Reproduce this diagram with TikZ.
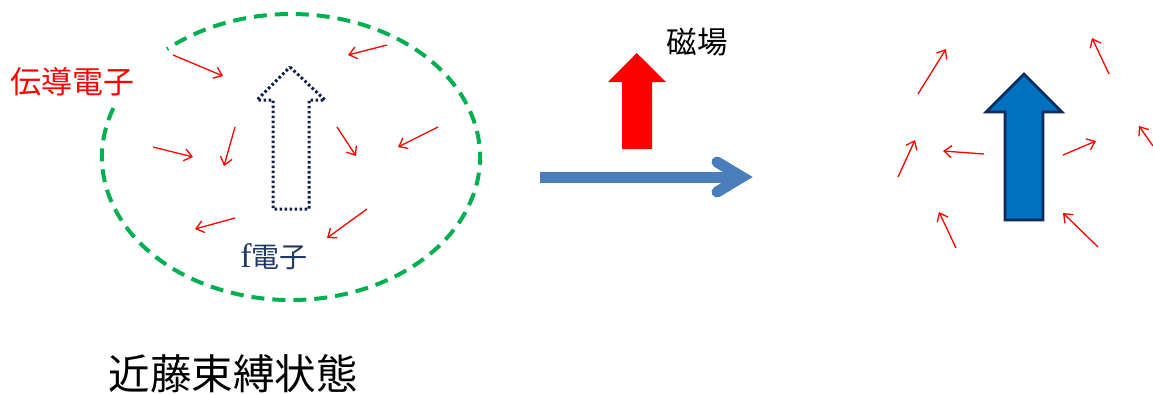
\documentclass[tikz,border=0pt]{standalone}
\usepackage{fontspec}
\newfontfamily\jpfont{Noto Sans CJK JP}
\newfontfamily\latinserif{Liberation Serif}
\usetikzlibrary{arrows.meta}
\definecolor{cloudgreen}{HTML}{00B050}
\definecolor{fnavy}{HTML}{1F3864}
\definecolor{dotnavy}{HTML}{0F1F4A}
\definecolor{flowblue}{HTML}{4A7EBB}
\definecolor{spinblue}{HTML}{0070C0}
\definecolor{spinedge}{HTML}{0F2B5B}
\tikzset{
  elec/.style={red, line width=1.3pt, -{Straight Barb[length=7.5pt,width=12pt]}},
  cloud/.style={cloudgreen, line width=4pt, dash pattern=on 13pt off 8pt},
  label/.style={inner sep=0pt, font=\jpfont},
}
\begin{document}
\begin{tikzpicture}[x=1pt,y=-1pt]
\useasboundingbox (0,0) rectangle (1153,394);

% screening cloud of conduction electrons (open where the label sits)
\coordinate (cloudstart) at (113.4,108.1);
\draw[cloud] (cloudstart) arc[start angle=160, end angle=491, x radius=189pt, y radius=143pt];

% localized f-electron spin, dotted outline
\draw[dotnavy, line width=3pt, dash pattern=on 2.6pt off 2.4pt, line join=miter]
  (290,67) -- (325,100) -- (309,100) -- (309,209) -- (273,209) -- (273,100) -- (257,100) -- cycle;

% conduction electrons inside the cloud
\foreach \i/\sx/\sy/\ex/\ey in {
  1/173/55/223/76,
  2/387/45/348/55,
  3/153/147/193/157,
  4/235/127/224/166,
  5/337/127/356/156,
  6/438/127/398/147,
  7/235/218/195/229,
  8/367/209/327/238}{
  \coordinate (ls\i) at (\sx,\sy);
  \coordinate (le\i) at (\ex,\ey);
  \draw[elec] (ls\i) -- (le\i);
}

\node[label, red, font=\jpfont\fontsize{31}{34}\selectfont] (cond) at (72,82) {伝導電子};
\node[label, fnavy, font=\jpfont\fontsize{28}{32}\selectfont] (fel) at (274,257) {{\latinserif\fontsize{34}{36}\selectfont f}電子};
\node[label, font=\jpfont\fontsize{41.5}{44}\selectfont] (kondo) at (233,374) {近藤束縛状態};

% applied magnetic field
\fill[red] (636.7,53) -- (666,82) -- (652,82) -- (652,149) -- (622,149) -- (622,82) -- (608,82) -- cycle;
\node[label, font=\jpfont\fontsize{30.5}{33}\selectfont] (field) at (697,42) {磁場};

% transition arrow
\coordinate (flowstart) at (540,177);
\coordinate (flowend) at (737,177);
\coordinate (flowtip) at (742,177);
\coordinate (flowup) at (717,162);
\coordinate (flowdown) at (717,192);
\draw[flowblue, line width=11pt] (flowstart) -- (flowend);
\draw[flowblue, line width=11pt, line cap=round, line join=miter] (flowup) -- (flowtip) -- (flowdown);

% polarized f spin
\filldraw[fill=spinblue, draw=spinedge, line width=2.6pt, line join=miter]
  (1024,74) -- (1062,112) -- (1043,112) -- (1043,220) -- (1005,220) -- (1005,112) -- (986,112) -- cycle;

% free conduction electrons
\foreach \i/\sx/\sy/\ex/\ey in {
  1/918/94/946/49,
  2/1109/74/1092/38,
  3/898/177/915/140,
  4/984/154/943/151,
  5/1063/155/1096/141,
  6/1153/146/1139/126,
  7/956/248/939/212,
  8/1098/247/1063/213}{
  \coordinate (rs\i) at (\sx,\sy);
  \coordinate (re\i) at (\ex,\ey);
  \draw[elec] (rs\i) -- (re\i);
}
\end{tikzpicture}
\end{document}
